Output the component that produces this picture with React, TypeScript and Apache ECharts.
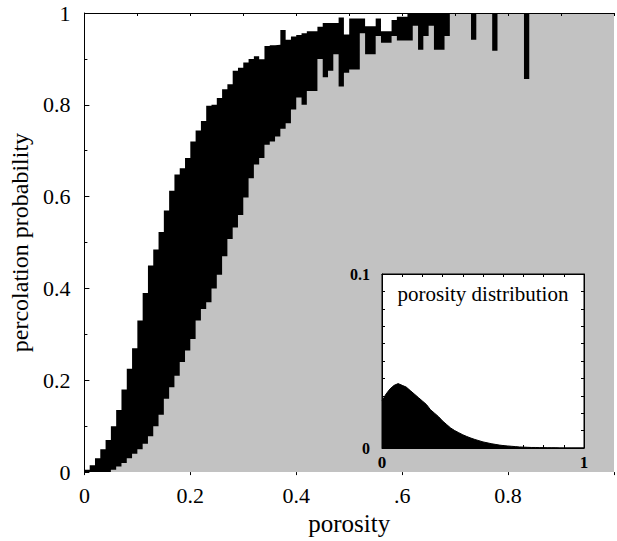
import React, { useEffect, useRef } from "react";
import * as echarts from "echarts";

// bins of width 0.01 starting at porosity k/100
const upperProb = [
  0.005, 0.015, 0.03, 0.05, 0.07, 0.1, 0.135, 0.18, 0.225, 0.27,
  0.33, 0.39, 0.45, 0.485, 0.523, 0.57, 0.613, 0.648, 0.662, 0.684,
  0.72, 0.744, 0.765, 0.798, 0.8, 0.815, 0.834, 0.845, 0.874, 0.881,
  0.892, 0.9, 0.906, 0.899, 0.928, 0.93, 0.931, 0.963, 0.942, 0.949,
  0.952, 0.956, 0.96, 0.96, 0.97, 0.978, 0.978, 0.978, 0.99, 0.953,
  0.988, 0.988, 0.988, 0.971, 0.971, 0.988, 0.96, 0.96, 0.985, 0.992,
  0.992, 1, 1, 1, 1, 1, 1, 1, 1, 1,
  1, 1, 1, 1, 1, 1, 1, 1, 1, 1,
  1, 1, 1, 1, 1, 1, 1, 1, 1, 1,
  1, 1, 1, 1, 1, 1, 1, 1, 1, 1,
];

const lowerProb = [
  0, 0, 0, 0, 0, 0.005, 0.012, 0.02, 0.03, 0.04,
  0.05, 0.062, 0.078, 0.1, 0.125, 0.16, 0.185, 0.21, 0.24, 0.265,
  0.29, 0.33, 0.355, 0.37, 0.4, 0.43, 0.47, 0.508, 0.533, 0.56,
  0.598, 0.64, 0.67, 0.684, 0.713, 0.72, 0.731, 0.748, 0.76, 0.79,
  0.816, 0.8, 0.83, 0.83, 0.9, 0.86, 0.874, 0.91, 0.84, 0.87,
  0.877, 0.877, 0.956, 0.91, 0.91, 0.95, 0.935, 0.935, 0.95, 0.94,
  0.94, 0.94, 0.972, 0.92, 0.95, 0.972, 0.92, 0.92, 0.95, 1,
  1, 1, 1, 0.942, 1, 1, 1, 0.918, 1, 1,
  1, 1, 1, 0.856, 1, 1, 1, 1, 1, 1,
  1, 1, 1, 1, 1, 1, 1, 1, 1, 1,
];

// inset histogram: porosity at 0.02 steps
const histDensity = [
  0.027, 0.031, 0.034, 0.036, 0.037, 0.036, 0.035, 0.033, 0.031, 0.029,
  0.027, 0.025, 0.022, 0.02, 0.018, 0.0155, 0.0135, 0.0115, 0.01, 0.0088,
  0.0076, 0.0066, 0.0057, 0.0049, 0.0042, 0.0035, 0.003, 0.0025, 0.0021, 0.0017,
  0.0014, 0.0012, 0.001, 0.0008, 0.0006, 0.0005, 0.0004, 0.0003, 0.0003, 0.0002,
  0.0002, 0.0001, 0.0001, 0.0001, 0, 0, 0, 0, 0, 0, 0,
];

const xTickLabels: Record<string, string> = { "0": "0", "0.2": "0.2", "0.4": "0.4", "0.6": ".6", "0.8": "0.8" };
const yTickLabels: Record<string, string> = { "0": "0", "0.2": "0.2", "0.4": "0.4", "0.6": "0.6", "0.8": "0.8", "1": "1" };
const insetTitle = "porosity distribution";

const FONT = "'Liberation Serif', 'Times New Roman', serif";

function stepData(vals: number[]) {
  const d: number[][] = vals.map((v, k) => [k / 100, v]);
  d.push([1, vals[vals.length - 1]]);
  return d;
}

function key(v: number) {
  return String(Math.round(v * 10) / 10);
}

export default function App() {
  const ref = useRef<HTMLDivElement>(null);
  useEffect(() => {
    const chart = echarts.init(ref.current!, null, { renderer: "svg" });
    const histData = histDensity.map((v, i) => [i * 0.02, v]);
    chart.setOption({
      animation: false,
      backgroundColor: "#fff",
      grid: [
        { left: 82, top: 13, right: 1, bottom: 63 },
        { left: 382, top: 274, width: 202, height: 174 },
      ],
      xAxis: [
        {
          gridIndex: 0, type: "value", min: 0, max: 1, interval: 0.2, z: 5,
          name: "porosity", nameLocation: "middle", nameGap: 31,
          nameTextStyle: { fontFamily: FONT, fontSize: 25, color: "#000" },
          axisLine: { show: false },
          axisTick: { show: true, inside: false, length: 3, lineStyle: { color: "#000" } },
          splitLine: { show: false },
          axisLabel: {
            fontFamily: FONT, fontSize: 22, color: "#000", margin: 12,
            formatter: (v: number) => xTickLabels[key(v)] ?? "",
          },
        },
        {
          gridIndex: 0, type: "value", min: 0, max: 1, interval: 0.1, position: "top", z: 5,
          axisLine: { show: true, onZero: false, lineStyle: { color: "#000", width: 1 } },
          axisTick: { show: true, inside: true, length: 3, lineStyle: { color: "#000" } },
          axisLabel: { show: false }, splitLine: { show: false },
        },
        {
          gridIndex: 1, type: "value", min: 0, max: 1, interval: 0.1, z: 25,
          axisLine: { show: true, lineStyle: { color: "#000", width: 1 } },
          axisTick: { show: true, inside: true, length: 3, lineStyle: { color: "#000" } },
          splitLine: { show: false },
          axisLabel: {
            fontFamily: FONT, fontSize: 17, fontWeight: "bold", color: "#000", margin: 6,
            formatter: (v: number) => (v === 0 ? "0" : Math.abs(v - 1) < 1e-9 ? "1" : ""),
          },
        },
        {
          gridIndex: 1, type: "value", min: 0, max: 1, interval: 0.1, position: "top", z: 25,
          axisLine: { show: true, onZero: false, lineStyle: { color: "#000", width: 1 } },
          axisTick: { show: true, inside: true, length: 3, lineStyle: { color: "#000" } },
          axisLabel: { show: false }, splitLine: { show: false },
        },
      ],
      yAxis: [
        {
          gridIndex: 0, type: "value", min: 0, max: 1, interval: 0.2, z: 5,
          name: "percolation probability", nameLocation: "middle", nameGap: 46,
          nameTextStyle: { fontFamily: FONT, fontSize: 24, color: "#000" },
          axisLine: { show: true, lineStyle: { color: "#000", width: 1 } },
          axisTick: { show: true, inside: true, length: 5, lineStyle: { color: "#000" } },
          minorTick: { show: true, splitNumber: 2, length: 3, lineStyle: { color: "#000" } },
          splitLine: { show: false },
          axisLabel: {
            fontFamily: FONT, fontSize: 22, color: "#000", margin: 14,
            formatter: (v: number) => yTickLabels[key(v)] ?? "",
          },
        },
        {
          gridIndex: 1, type: "value", min: 0, max: 0.1, interval: 0.01, z: 25,
          axisLine: { show: true, lineStyle: { color: "#000", width: 1 } },
          axisTick: { show: true, inside: true, length: 3, lineStyle: { color: "#000" } },
          splitLine: { show: false },
          axisLabel: {
            fontFamily: FONT, fontSize: 16, fontWeight: "bold", color: "#000", margin: 12,
            formatter: (v: number) => (v === 0 ? "0" : Math.abs(v - 0.1) < 1e-9 ? "0.1" : ""),
          },
        },
        {
          gridIndex: 1, type: "value", min: 0, max: 0.1, interval: 0.01, position: "right", z: 25,
          axisLine: { show: true, onZero: false, lineStyle: { color: "#000", width: 1 } },
          axisTick: { show: true, inside: true, length: 3, lineStyle: { color: "#000" } },
          axisLabel: { show: false }, splitLine: { show: false },
        },
      ],
      graphic: [
        {
          type: "rect", z: 10, silent: true,
          shape: { x: 382, y: 274, width: 202, height: 174 },
          style: { fill: "#fff", stroke: "#000", lineWidth: 1 },
        },
        {
          type: "text", z: 30, silent: true, x: 483, y: 294,
          style: {
            text: insetTitle, fontFamily: FONT, fontSize: 21, fill: "#000",
            textAlign: "center", textVerticalAlign: "middle",
          },
        },
      ],
      series: [
        {
          type: "line", xAxisIndex: 0, yAxisIndex: 0, step: "end", symbol: "none", z: 2,
          data: stepData(upperProb),
          lineStyle: { width: 0 }, areaStyle: { color: "#000", opacity: 1 },
        },
        {
          type: "line", xAxisIndex: 0, yAxisIndex: 0, step: "end", symbol: "none", z: 3,
          data: stepData(lowerProb),
          lineStyle: { width: 0 }, areaStyle: { color: "#c2c2c2", opacity: 1 },
        },
        {
          type: "line", xAxisIndex: 2, yAxisIndex: 1, symbol: "none", z: 20,
          data: histData,
          lineStyle: { width: 1, color: "#000" }, areaStyle: { color: "#000", opacity: 1 },
        },
      ],
    });
    return () => chart.dispose();
  }, []);
  return (
    <div
      ref={ref}
      style={{ position: "fixed", left: 0, top: 0, width: 617, height: 541 }}
    />
  );
}
